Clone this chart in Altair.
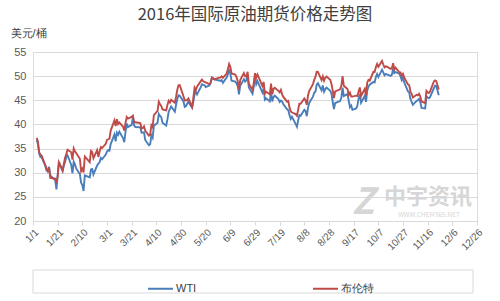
import altair as alt
import pandas as pd
import datetime as dt

# ---- data (2016 trading days) ----
dates = ["1/4","1/5","1/6","1/7","1/8","1/11","1/12","1/13","1/14","1/15","1/19","1/20","1/21","1/22","1/25","1/26","1/27","1/28","1/29",
 "2/1","2/2","2/3","2/4","2/5","2/8","2/9","2/10","2/11","2/12","2/16","2/17","2/18","2/19","2/22","2/23","2/24","2/25","2/26","2/29",
 "3/1","3/2","3/3","3/4","3/7","3/8","3/9","3/10","3/11","3/14","3/15","3/16","3/17","3/18","3/21","3/22","3/23","3/24","3/28","3/29","3/30","3/31",
 "4/1","4/4","4/5","4/6","4/7","4/8","4/11","4/12","4/13","4/14","4/15","4/18","4/19","4/20","4/21","4/22","4/25","4/26","4/27","4/28","4/29",
 "5/2","5/3","5/4","5/5","5/6","5/9","5/10","5/11","5/12","5/13","5/16","5/17","5/18","5/19","5/20","5/23","5/24","5/25","5/26","5/27","5/31",
 "6/1","6/2","6/3","6/6","6/7","6/8","6/9","6/10","6/13","6/14","6/15","6/16","6/17","6/20","6/21","6/22","6/23","6/24","6/27","6/28","6/29","6/30",
 "7/1","7/5","7/6","7/7","7/8","7/11","7/12","7/13","7/14","7/15","7/18","7/19","7/20","7/21","7/22","7/25","7/26","7/27","7/28","7/29",
 "8/1","8/2","8/3","8/4","8/5","8/8","8/9","8/10","8/11","8/12","8/15","8/16","8/17","8/18","8/19","8/22","8/23","8/24","8/25","8/26","8/29","8/30","8/31",
 "9/1","9/2","9/6","9/7","9/8","9/9","9/12","9/13","9/14","9/15","9/16","9/19","9/20","9/21","9/22","9/23","9/26","9/27","9/28","9/29","9/30",
 "10/3","10/4","10/5","10/6","10/7","10/10","10/11","10/12","10/13","10/14","10/17","10/18","10/19","10/20","10/21","10/24","10/25","10/26","10/27","10/28","10/31",
 "11/1","11/2","11/3","11/4","11/7","11/8","11/9","11/10","11/11","11/14","11/15","11/16","11/17","11/18","11/21","11/22","11/23","11/25"]

wti = [36.76,35.97,33.97,33.27,33.16,31.41,30.44,30.48,31.20,29.42,28.46,26.55,29.53,32.19,30.34,31.45,32.30,33.22,33.62,
 31.62,29.88,32.28,31.72,30.89,29.69,27.94,27.45,26.21,29.44,29.04,30.66,30.77,29.64,31.48,31.87,32.15,33.07,32.78,33.75,
 34.40,34.66,34.57,35.92,37.90,36.50,38.29,37.84,38.50,37.18,36.34,38.46,40.20,39.44,39.91,41.45,39.79,39.46,39.39,38.28,38.32,38.34,
 36.79,35.70,35.89,37.75,37.26,39.72,40.36,42.17,41.76,41.50,40.36,39.78,41.08,42.63,43.18,43.73,42.64,44.04,45.33,46.03,45.92,
 44.78,43.65,43.78,44.32,44.66,43.44,44.66,46.23,46.70,46.21,47.72,48.31,48.19,48.16,47.75,48.08,48.62,49.56,49.48,49.33,49.10,
 49.01,49.17,48.62,49.69,50.36,51.23,50.56,49.07,48.88,48.49,48.01,46.21,47.98,49.37,48.85,49.13,50.11,47.64,46.33,47.85,49.88,48.33,
 48.99,46.60,47.43,45.14,45.41,44.76,46.80,44.75,45.68,45.95,45.24,44.65,44.94,44.75,44.19,43.13,42.92,41.92,41.14,41.60,
 40.06,39.51,40.83,41.93,41.80,43.02,42.77,41.71,43.49,44.49,45.74,46.58,46.79,48.22,48.52,47.05,48.10,46.77,47.33,47.64,46.98,46.35,44.70,
 43.16,44.44,44.83,45.50,47.62,45.88,46.29,44.90,43.58,43.91,43.03,43.30,43.85,45.34,46.32,44.48,45.93,44.67,47.05,47.83,48.24,
 48.81,48.69,49.83,50.44,49.81,51.35,50.79,50.18,50.44,50.35,50.06,50.29,51.60,50.63,50.85,50.52,49.96,49.18,49.72,48.70,46.86,
 46.67,45.34,44.66,44.07,44.89,44.98,45.27,44.66,43.41,43.32,45.81,45.57,45.42,45.69,47.49,48.03,47.96,46.06]

brent = [37.22,36.42,34.23,33.75,33.55,31.55,30.86,30.31,31.03,28.94,28.76,27.88,29.25,32.18,30.50,31.80,33.10,33.89,34.74,
 34.24,32.72,35.04,34.46,34.06,32.88,30.32,30.84,30.06,33.36,32.18,34.50,34.28,33.01,34.69,33.27,34.41,35.29,35.10,35.97,
 36.81,36.93,37.07,38.72,40.84,39.65,41.07,40.05,40.39,39.53,38.74,40.33,41.54,41.20,41.54,41.79,40.47,40.44,40.27,39.14,39.26,39.60,
 38.67,37.69,37.87,39.84,39.43,41.94,42.83,44.69,44.18,43.84,43.10,42.91,44.03,44.90,44.53,45.11,44.48,45.74,47.18,48.14,48.13,
 45.83,44.97,45.01,45.01,45.37,43.63,45.52,47.59,47.08,47.83,48.97,49.28,48.93,48.81,48.72,48.35,48.61,49.74,49.59,49.32,49.69,
 49.72,49.95,49.64,50.55,51.44,52.51,51.95,50.54,50.35,49.83,48.97,47.19,49.17,50.65,49.96,49.88,50.91,48.41,47.16,48.58,50.61,49.68,
 50.35,47.96,48.80,46.40,46.76,46.25,48.47,46.26,47.37,47.61,46.96,46.66,47.17,46.20,45.69,44.72,44.87,43.47,42.70,42.46,
 42.14,41.80,43.10,44.29,44.27,45.39,44.98,44.05,46.04,46.97,48.35,49.23,49.85,50.89,50.88,49.16,49.96,49.05,49.67,49.92,49.26,48.37,47.04,
 45.45,46.83,47.26,47.98,49.99,48.01,47.32,46.10,46.59,45.77,45.77,45.95,45.88,46.83,47.65,45.89,47.35,45.97,48.69,49.24,49.06,
 50.89,50.87,51.86,52.51,51.93,53.14,52.41,51.81,52.03,51.95,51.52,51.68,52.67,51.38,51.78,50.79,50.79,49.98,50.47,49.71,48.30,
 48.14,46.86,46.35,45.58,46.15,46.04,46.36,45.84,44.75,44.43,46.95,46.63,46.49,46.86,48.90,49.12,48.95,47.24]

series_names = ["WTI", "布伦特"]
series_colors = ["#4A7EBB", "#BE4B48"]
y_ticks = [20, 25, 30, 35, 40, 45, 50, 55]

# x-axis ticks every 20 days from 1/1 to 12/26
start = dt.date(2016, 1, 1)
tick_dates = [start + dt.timedelta(days=20 * k) for k in range(19)]

def full(d):
    m, dd = d.split("/")
    return f"2016/{int(m):02d}/{int(dd):02d}"

rows = []
for name, vals in zip(series_names, [wti, brent]):
    for d, v in zip(dates, vals):
        rows.append({"date": full(d), "price": v, "series": name})
df = pd.DataFrame(rows)

FONT = "Noto Sans CJK SC"

lines = alt.Chart(df).mark_line(strokeWidth=1.9).encode(
    x=alt.X("date:T",
            scale=alt.Scale(domain=[alt.DateTime(year=2016, month=1, date=1),
                                    alt.DateTime(year=2016, month=12, date=26)]),
            axis=alt.Axis(values=[alt.DateTime(year=t.year, month=t.month, date=t.day) for t in tick_dates],
                          format="%-m/%-d", labelAngle=-45, grid=False, tickSize=4,
                          domainColor="#d9d9d9", tickColor="#d9d9d9", labelOverlap=False,
                          labelColor="#595959", labelFontSize=10, labelPadding=2, title=None)),
    y=alt.Y("price:Q",
            scale=alt.Scale(domain=[20, 55], nice=False, zero=False),
            axis=alt.Axis(values=y_ticks, grid=True, gridColor="#d9d9d9", domain=False, ticks=False,
                          labelColor="#595959", labelFontSize=11, labelPadding=7,
                          title="美元/桶", titleAngle=0, titleX=-23, titleY=-19, titleAlign="left",
                          titleBaseline="middle", titleFontSize=11, titleFontWeight="normal",
                          titleColor="#404040")),
    color=alt.Color("series:N",
                    scale=alt.Scale(domain=series_names, range=series_colors),
                    legend=alt.Legend(orient="none", legendX=114, legendY=223, direction="horizontal",
                                      title=None, symbolType="stroke", symbolSize=625,
                                      symbolStrokeWidth=2, labelOffset=2, columnPadding=112,
                                      labelFontSize=11, labelColor="#404040", padding=0)),
)

legend_box = alt.Chart(pd.DataFrame({"k": [0]})).mark_rect(fill="white", stroke="#d9d9d9", strokeWidth=1).encode(
    x=alt.value(0), x2=alt.value(440), y=alt.value(218), y2=alt.value(241)
)

wm_df = pd.DataFrame({"k": [0]})
wm1 = alt.Chart(wm_df).mark_text(text="中宇资讯", font=FONT, fontSize=22, fontWeight="bold",
                                 color="#d6d6d6").encode(x=alt.value(395), y=alt.value(145))
wm2 = alt.Chart(wm_df).mark_text(text="WWW.CHEM365.NET", font=FONT, fontSize=6.5,
                                 color="#d6d6d6").encode(x=alt.value(396), y=alt.value(163))
wm3 = alt.Chart(wm_df).mark_text(text="Z", font=FONT, fontSize=36, fontWeight="bold", fontStyle="italic",
                                 color="#d6d6d6").encode(x=alt.value(330), y=alt.value(151))

chart = alt.layer(legend_box, wm1, wm2, wm3, lines).properties(
    width=444, height=169,
    title=alt.TitleParams("2016年国际原油期货价格走势图", fontSize=16.5, font=FONT, fontWeight="normal",
                          color="#404040", offset=4, anchor="middle"),
    autosize=alt.AutoSizeParams(type="none"),
    padding={"left": 33, "top": 52, "right": 23, "bottom": 80},
).configure_view(stroke=None).configure_axis(labelFont=FONT, titleFont=FONT).configure_legend(
    labelFont=FONT).configure(background="white")

chart.save("out.html", embed_options={"renderer": "svg", "actions": False})
